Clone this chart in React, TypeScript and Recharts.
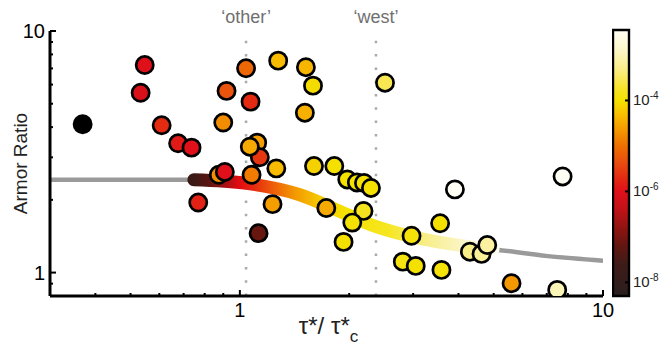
import React from 'react';
import { ComposedChart, XAxis, YAxis, Line, Scatter, ReferenceLine, ReferenceArea } from 'recharts';

// scatter points: tau*/tau*c, armor ratio, log10 of colour variable
const dotX = [0.369, 0.547, 0.533, 0.609, 0.676, 0.736, 0.768, 0.919, 0.9, 0.875, 0.909, 1.04, 1.07, 1.116, 1.135, 1.065, 1.077, 1.126, 1.23, 1.275, 1.26, 1.52, 1.59, 1.51, 1.6, 1.82, 1.73, 1.976, 2.1, 2.197, 2.296, 2.19, 2.04, 1.93, 2.51, 2.97, 2.81, 3.05, 3.56, 3.59, 3.91, 4.3, 4.63, 4.8, 5.6, 7.74, 7.48];
const dotY = [4.11, 7.23, 5.55, 4.07, 3.43, 3.29, 1.95, 5.65, 4.18, 2.54, 2.61, 7.01, 5.1, 3.45, 3.0, 3.32, 2.54, 1.456, 1.92, 7.54, 2.7, 7.08, 5.94, 4.59, 2.76, 2.76, 1.85, 2.43, 2.36, 2.35, 2.24, 1.8, 1.61, 1.34, 6.11, 1.42, 1.11, 1.066, 1.6, 1.026, 2.21, 1.22, 1.195, 1.3, 0.904, 2.5, 0.848];
const dotZ = [-9, -6.0, -6.1, -5.7, -5.9, -6.0, -5.8, -5.3, -4.75, -4.75, -6.0, -5.1, -5.7, -4.6, -5.6, -4.5, -4.9, -7.15, -4.6, -4.35, -4.35, -4.4, -4.05, -4.45, -4.15, -4.0, -4.5, -4.0, -4.0, -4.0, -4.0, -3.8, -4.0, -4.0, -3.55, -3.95, -3.9, -4.0, -4.0, -3.95, -2.45, -3.3, -3.2, -3.15, -4.65, -2.45, -3.0];

// model curve
const curveX = [0.3, 0.747, 1.043, 1.463, 1.846, 2.33, 2.97, 4.12, 4.98, 7.05, 10];
const curveY = [2.42, 2.42, 2.34, 2.1, 1.817, 1.565, 1.41, 1.29, 1.25, 1.17, 1.12];
const bandFrom = 0.747;
const bandTo = 4.98;

const xTicks = [0.4, 0.5, 0.6, 0.7, 0.8, 0.9, 1, 2, 3, 4, 5, 6, 7, 8, 9, 10];
const yTicks = [0.9, 1, 2, 3, 4, 5, 6, 7, 8, 9, 10];
const majorTicks = [1, 10];

// colour bar
const cMin = -8.3;
const cMax = -2.45;
const cTicks = [-8, -6, -4];
const cStops = [-8.3, -7.6, -7.2, -6.8, -6.4, -6.0, -5.75, -5.4, -5.0, -4.7, -4.35, -4.0, -3.7, -3.35, -2.9, -2.45];
const cColors = ['#2a1e1e', '#3e1c18', '#621610', '#901410', '#c01218', '#e0101a', '#e32612', '#e84a10', '#ee7000', '#f39200', '#f8bb00', '#f5e100', '#f7e430', '#f9ec80', '#fdf7c8', '#fffff5'];

const bandOffsets = [0, 0.05, 0.1, 0.15, 0.2, 0.27, 0.34, 0.42, 0.5, 0.65, 0.78, 0.9, 1];
const bandColors = ['#3a1a16', '#5a1512', '#a01214', '#e00a12', '#e62a10', '#ee6208', '#f39a00', '#f7c800', '#f5e000', '#f6e620', '#f8ee8a', '#fbf5c8', '#fefdf2'];

const FONT = 'Liberation Sans, Arial, sans-serif';

function hex(c: string) {
  return [1, 3, 5].map((i) => parseInt(c.slice(i, i + 2), 16));
}

function colormap(z: number) {
  if (z < cMin) return '#000000';
  if (z >= cMax) return cColors[cColors.length - 1];
  let i = 0;
  while (i < cStops.length - 2 && z > cStops[i + 1]) i++;
  const t = (z - cStops[i]) / (cStops[i + 1] - cStops[i]);
  const a = hex(cColors[i]);
  const b = hex(cColors[i + 1]);
  const m = a.map((v, k) => Math.round(v + (b[k] - v) * t));
  return `rgb(${m[0]},${m[1]},${m[2]})`;
}

const dots = dotX.map((x, i) => ({ x, y: dotY[i], fill: colormap(dotZ[i]) }));
const curve = curveX.map((x, i) => ({ x, y: curveY[i] }));
const band = curve.filter((d) => d.x >= bandFrom && d.x <= bandTo);

const Dot = (props: any) => (
  <circle cx={props.cx} cy={props.cy} r={8.6} fill={props.payload.fill} stroke="#000" strokeWidth={2.7} />
);

const tickLen = (v: number) => (majorTicks.includes(v) ? 6 : 3);

const BottomTick = (props: any) => {
  const { x, y, payload } = props;
  const v = payload.value;
  return (
    <g>
      <line x1={x} y1={y} x2={x} y2={y - tickLen(v)} stroke="#000" strokeWidth={2} />
      {majorTicks.includes(v) && (
        <text x={x} y={y + 21} textAnchor="middle" fontSize={20} fontFamily={FONT} fill="#000">
          {v}
        </text>
      )}
    </g>
  );
};

const TopTick = (props: any) => {
  const { x, y, payload } = props;
  return <line x1={x} y1={y} x2={x} y2={y + tickLen(payload.value)} stroke="#000" strokeWidth={2} />;
};

const LeftTick = (props: any) => {
  const { x, y, payload } = props;
  const v = payload.value;
  return (
    <g>
      <line x1={x} y1={y} x2={x + tickLen(v)} y2={y} stroke="#000" strokeWidth={2} />
      {majorTicks.includes(v) && (
        <text x={x - 5} y={y + 7} textAnchor="end" fontSize={20} fontFamily={FONT} fill="#000">
          {v}
        </text>
      )}
    </g>
  );
};

const RightTick = (props: any) => {
  const { x, y, payload } = props;
  return <line x1={x} y1={y} x2={x - tickLen(payload.value)} y2={y} stroke="#000" strokeWidth={2} />;
};

const CbarTick = (props: any) => {
  const { x, y, payload } = props;
  return (
    <g>
      <line x1={x - 1} y1={y} x2={x - 4} y2={y} stroke="#000" strokeWidth={2} />
      <text x={x + 4} y={y + 5} fontSize={15} fontFamily={FONT} fill="#222">
        10
        <tspan dy={-6} fontSize={10}>
          {payload.value}
        </tspan>
      </text>
    </g>
  );
};

const XTitle = (props: any) => {
  const vb = props.viewBox || { x: 50, y: 296, width: 553, height: 58 };
  return (
    <text x={vb.x + vb.width / 2 + 2} y={vb.y + 38} textAnchor="middle" fontSize={24} fontFamily={FONT} fill="#222">
      τ*/ τ*
      <tspan dy={8} fontSize={17}>
        c
      </tspan>
    </text>
  );
};

const YTitle = (props: any) => {
  const vb = props.viewBox || { x: 0, y: 31, width: 50, height: 265 };
  const cx = 27;
  const cy = vb.y + vb.height / 2;
  return (
    <text x={cx} y={cy} transform={`rotate(-90 ${cx} ${cy})`} textAnchor="middle" fontSize={19} fontFamily={FONT} fill="#222">
      Armor Ratio
    </text>
  );
};

const frame = { stroke: '#000', strokeWidth: 3 };
const topLabel = { position: 'top' as const, fill: '#707070', fontSize: 18, offset: 8, fontFamily: FONT };

export default function App() {
  return (
    <div style={{ position: 'absolute', left: 0, top: 0, width: 663, height: 354, background: '#fff', fontFamily: FONT }}>
      <div style={{ position: 'absolute', left: 0, top: 0 }}>
        <ComposedChart width={663} height={354} margin={{ top: 31, right: 60, bottom: 0, left: 0 }}>
          <defs>
            <linearGradient id="band" x1="0" y1="0" x2="1" y2="0">
              {bandOffsets.map((o, i) => (
                <stop key={i} offset={o} stopColor={bandColors[i]} />
              ))}
            </linearGradient>
          </defs>
          <XAxis
            xAxisId="b"
            dataKey="x"
            type="number"
            scale="log"
            domain={[0.3, 10]}
            ticks={xTicks}
            interval={0}
            allowDataOverflow
            height={58}
            axisLine={frame}
            tickLine={false}
            tickSize={0}
            tickMargin={0}
            tick={<BottomTick />}
            label={<XTitle />}
          />
          <XAxis
            xAxisId="t"
            orientation="top"
            type="number"
            scale="log"
            domain={[0.3, 10]}
            ticks={xTicks}
            interval={0}
            allowDataOverflow
            height={0}
            axisLine={frame}
            tickLine={false}
            tickSize={0}
            tickMargin={0}
            tick={<TopTick />}
          />
          <YAxis
            yAxisId="l"
            dataKey="y"
            type="number"
            scale="log"
            domain={[0.8, 10]}
            ticks={yTicks}
            interval={0}
            allowDataOverflow
            width={50}
            axisLine={frame}
            tickLine={false}
            tickSize={0}
            tickMargin={0}
            tick={<LeftTick />}
            label={<YTitle />}
          />
          <YAxis
            yAxisId="r"
            orientation="right"
            type="number"
            scale="log"
            domain={[0.8, 10]}
            ticks={yTicks}
            interval={0}
            allowDataOverflow
            width={0}
            axisLine={frame}
            tickLine={false}
            tickSize={0}
            tickMargin={0}
            tick={<RightTick />}
          />
          <ReferenceLine
            xAxisId="b"
            yAxisId="l"
            x={1.04}
            stroke="#aaa"
            strokeWidth={2.5}
            strokeDasharray="2.5 10.8"
            label={{ ...topLabel, value: '‘other’' }}
          />
          <ReferenceLine
            xAxisId="b"
            yAxisId="l"
            x={2.37}
            stroke="#aaa"
            strokeWidth={2.5}
            strokeDasharray="2.5 10.8"
            label={{ ...topLabel, value: '‘west’' }}
          />
          <Line
            xAxisId="b"
            yAxisId="l"
            data={curve}
            dataKey="y"
            type="monotone"
            stroke="#9a9a9a"
            strokeWidth={4.5}
            dot={false}
            activeDot={false}
            isAnimationActive={false}
          />
          <Line
            xAxisId="b"
            yAxisId="l"
            data={band}
            dataKey="y"
            type="monotone"
            stroke="url(#band)"
            strokeWidth={13}
            strokeLinecap="round"
            dot={false}
            activeDot={false}
            isAnimationActive={false}
          />
          <Scatter xAxisId="b" yAxisId="l" data={dots} shape={Dot} isAnimationActive={false} />
        </ComposedChart>
      </div>
      <div style={{ position: 'absolute', left: 612, top: 0 }}>
        <ComposedChart width={51} height={354} margin={{ top: 30, right: 0, bottom: 58, left: 1 }} data={[{ x: 0 }, { x: 1 }]}>
          <defs>
            <linearGradient id="cbar" x1="0" y1="1" x2="0" y2="0">
              {cStops.map((s, i) => (
                <stop key={i} offset={(s - cMin) / (cMax - cMin)} stopColor={cColors[i]} />
              ))}
            </linearGradient>
          </defs>
          <XAxis dataKey="x" type="number" domain={[0, 1]} hide />
          <YAxis
            type="number"
            domain={[cMin, cMax]}
            ticks={cTicks}
            interval={0}
            allowDataOverflow
            orientation="right"
            width={34}
            axisLine={false}
            tickLine={false}
            tickSize={0}
            tickMargin={0}
            tick={<CbarTick />}
          />
          <ReferenceArea x1={0} x2={1} y1={cMin} y2={cMax} fill="url(#cbar)" fillOpacity={1} stroke="#000" strokeWidth={2.4} />
        </ComposedChart>
      </div>
    </div>
  );
}
